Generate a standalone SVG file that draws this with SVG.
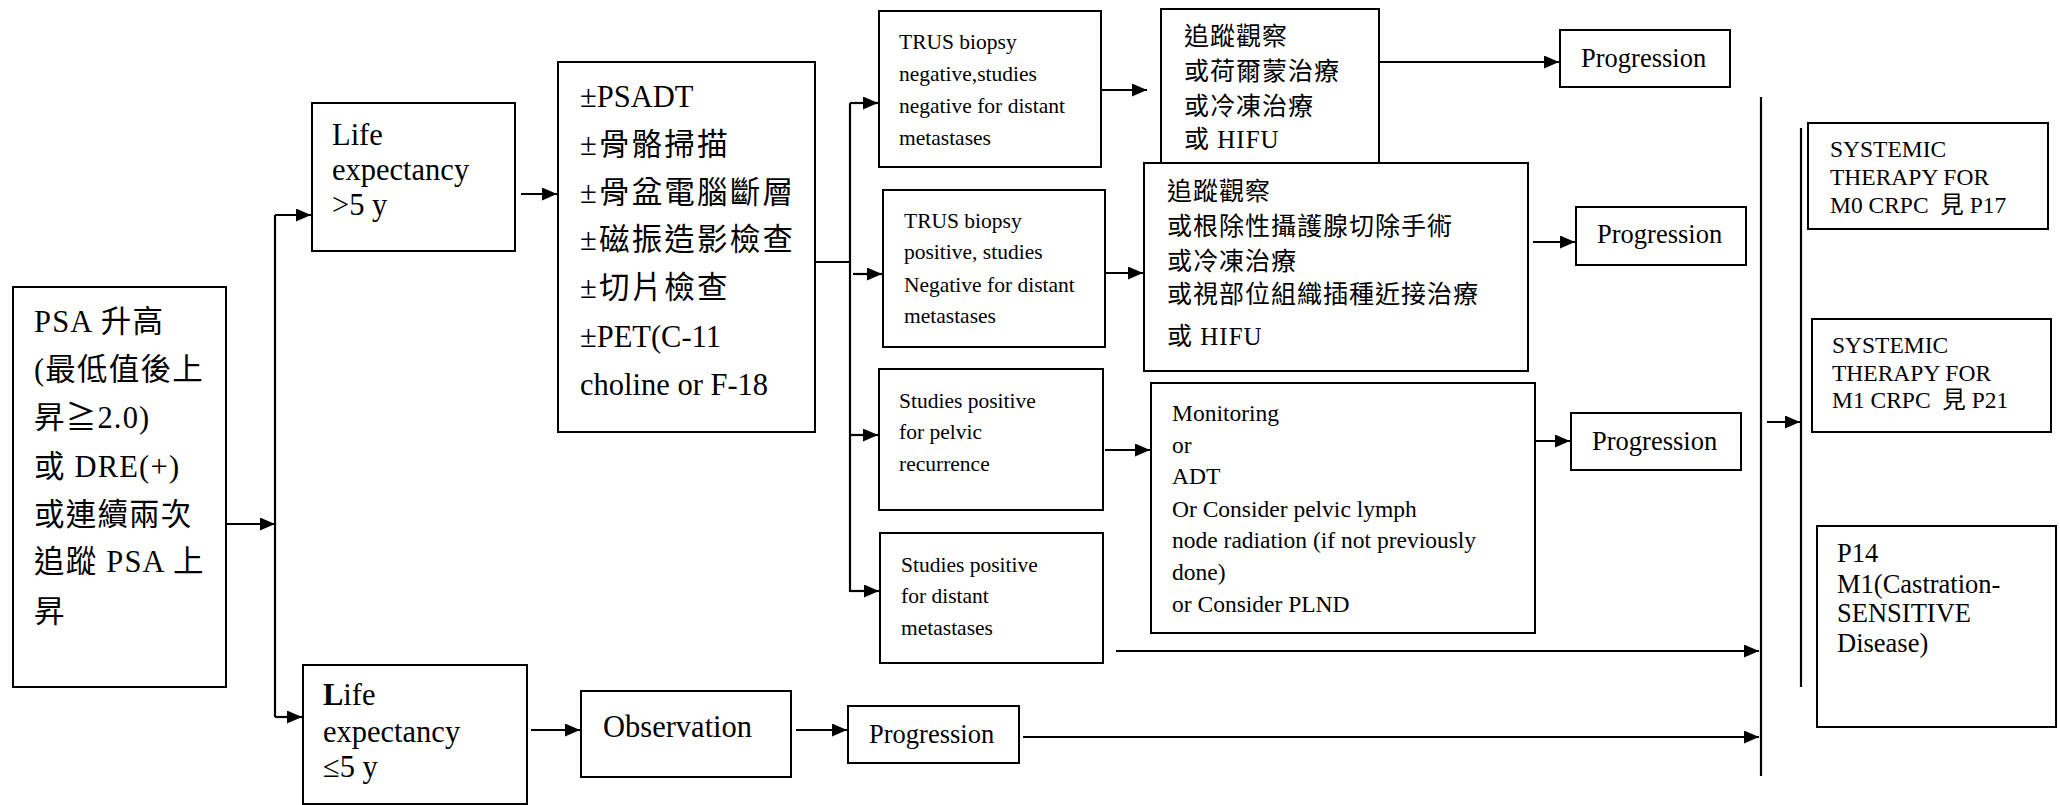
<svg xmlns="http://www.w3.org/2000/svg" width="2060" height="805" viewBox="0 0 2060 805">
<style>
  .box{fill:#fff;stroke:#000;stroke-width:2}
  .t{font-family:"Liberation Serif",serif;fill:#000}
  .c{font-family:"Liberation Serif","Noto Sans CJK TC","Noto Sans CJK JP",serif;fill:#000}
  .big{font-size:30.5px}
  .bigc{font-size:30.5px;letter-spacing:1.2px}
  .life{font-size:30.5px}
  .sm{font-size:21.5px}
  .cn{font-size:25px;letter-spacing:1px}
  .mon{font-size:23.5px}
  .prog{font-size:26.5px}
  .conn path{fill:none;stroke:#000;stroke-width:2.2}
</style>
<defs>
  <marker id="ah" markerUnits="userSpaceOnUse" markerWidth="15" markerHeight="13" refX="15" refY="6.5" orient="auto">
    <path d="M0,0 L15,6.5 L0,13 z" fill="#000"/>
  </marker>
</defs>
<rect width="2060" height="805" fill="#fff"/>

<g id="connectors" class="conn">
  <path d="M226,524 H275" marker-end="url(#ah)"/>
  <path d="M275,215 V717"/>
  <path d="M275,215 H311" marker-end="url(#ah)"/>
  <path d="M275,717 H302" marker-end="url(#ah)"/>
  <path d="M521,194 H557" marker-end="url(#ah)"/>
  <path d="M815,262 H850"/>
  <path d="M850,103 V592"/>
  <path d="M850,103 H878" marker-end="url(#ah)"/>
  <path d="M853,274 H882" marker-end="url(#ah)"/>
  <path d="M850,435 H878" marker-end="url(#ah)"/>
  <path d="M850,591 H879" marker-end="url(#ah)"/>
  <path d="M1102,90 H1147" marker-end="url(#ah)"/>
  <path d="M1104,273 H1143" marker-end="url(#ah)"/>
  <path d="M1105,450 H1150" marker-end="url(#ah)"/>
  <path d="M1369,62 H1559" marker-end="url(#ah)"/>
  <path d="M1533,242 H1575" marker-end="url(#ah)"/>
  <path d="M1536,441 H1570" marker-end="url(#ah)"/>
  <path d="M1116,651 H1759" marker-end="url(#ah)"/>
  <path d="M1023,737 H1759" marker-end="url(#ah)"/>
  <path d="M531,730 H580" marker-end="url(#ah)"/>
  <path d="M796,730 H847" marker-end="url(#ah)"/>
  <path d="M1761,97 V776"/>
  <path d="M1801,128 V687"/>
  <path d="M1767,422 H1800" marker-end="url(#ah)"/>
</g>

<g id="psa">
  <rect class="box" x="13" y="287" width="213" height="400"/>
  <text class="c bigc" x="34" y="332">PSA 升高</text>
  <text class="c bigc" x="34" y="380">(最低值後上</text>
  <text class="c bigc" x="34" y="428">昇≧2.0)</text>
  <text class="c bigc" x="34" y="477">或 DRE(+)</text>
  <text class="c bigc" x="34" y="525">或連續兩次</text>
  <text class="c bigc" x="34" y="572">追蹤 PSA 上</text>
  <text class="c bigc" x="34" y="622">昇</text>
</g>

<g id="life-gt5">
  <rect class="box" x="312" y="103" width="203" height="148"/>
  <text class="t life" x="332" y="145">Life</text>
  <text class="t life" x="332" y="180">expectancy</text>
  <text class="t life" x="332" y="215">&gt;5 y</text>
</g>

<g id="life-le5">
  <rect class="box" x="303" y="665" width="224" height="139"/>
  <text class="t life" x="323" y="705"><tspan font-weight="bold">L</tspan>ife</text>
  <text class="t life" x="323" y="742">expectancy</text>
  <text class="t life" x="323" y="777">≤5 y</text>
</g>

<g id="workup">
  <rect class="box" x="558" y="62" width="257" height="370"/>
  <text class="t big" x="580" y="107">±PSADT</text>
  <text class="c big" x="580" y="155" letter-spacing="2.2">±骨骼掃描</text>
  <text class="c big" x="580" y="203" letter-spacing="2.2">±骨盆電腦斷層</text>
  <text class="c big" x="580" y="250" letter-spacing="2.2">±磁振造影檢查</text>
  <text class="c big" x="580" y="298" letter-spacing="2.2">±切片檢查</text>
  <text class="t big" x="580" y="347">±PET(C-11</text>
  <text class="t big" x="580" y="395">choline or F-18</text>
</g>

<g id="trus-neg">
  <rect class="box" x="879" y="11" width="222" height="156"/>
  <text class="t sm" x="899" y="49">TRUS biopsy</text>
  <text class="t sm" x="899" y="81">negative,studies</text>
  <text class="t sm" x="899" y="113">negative for distant</text>
  <text class="t sm" x="899" y="145">metastases</text>
</g>

<g id="trus-pos">
  <rect class="box" x="883" y="190" width="222" height="157"/>
  <text class="t sm" x="904" y="228">TRUS biopsy</text>
  <text class="t sm" x="904" y="259">positive, studies</text>
  <text class="t sm" x="904" y="292">Negative for distant</text>
  <text class="t sm" x="904" y="323">metastases</text>
</g>

<g id="pelvic">
  <rect class="box" x="879" y="369" width="224" height="141"/>
  <text class="t sm" x="899" y="408">Studies positive</text>
  <text class="t sm" x="899" y="439">for pelvic</text>
  <text class="t sm" x="899" y="471">recurrence</text>
</g>

<g id="distant">
  <rect class="box" x="880" y="533" width="223" height="130"/>
  <text class="t sm" x="901" y="572">Studies positive</text>
  <text class="t sm" x="901" y="603">for distant</text>
  <text class="t sm" x="901" y="635">metastases</text>
</g>

<g id="observation">
  <rect class="box" x="581" y="691" width="210" height="86"/>
  <text class="t life" x="603" y="737" font-size="28.8">Observation</text>
</g>

<g id="progression-bottom">
  <rect class="box" x="848" y="706" width="171" height="57"/>
  <text class="t prog" x="869" y="743">Progression</text>
</g>

<g id="treat-neg">
  <rect class="box" x="1161" y="9" width="218" height="154"/>
  <text class="c cn" x="1184" y="45">追蹤觀察</text>
  <text class="c cn" x="1184" y="80">或荷爾蒙治療</text>
  <text class="c cn" x="1184" y="115">或冷凍治療</text>
  <text class="c cn" x="1184" y="148">或 HIFU</text>
</g>

<g id="progression-1">
  <rect class="box" x="1560" y="30" width="170" height="57"/>
  <text class="t prog" x="1581" y="67">Progression</text>
</g>

<g id="treat-pos">
  <rect class="box" x="1144" y="163" width="384" height="208"/>
  <text class="c cn" x="1167" y="200">追蹤觀察</text>
  <text class="c cn" x="1167" y="235">或根除性攝護腺切除手術</text>
  <text class="c cn" x="1167" y="270">或冷凍治療</text>
  <text class="c cn" x="1167" y="303">或視部位組織插種近接治療</text>
  <text class="c cn" x="1167" y="345">或 HIFU</text>
</g>

<g id="progression-2">
  <rect class="box" x="1576" y="207" width="170" height="58"/>
  <text class="t prog" x="1597" y="243">Progression</text>
</g>

<g id="monitoring">
  <rect class="box" x="1151" y="383" width="384" height="250"/>
  <text class="t mon" x="1172" y="421">Monitoring</text>
  <text class="t mon" x="1172" y="453">or</text>
  <text class="t mon" x="1172" y="484">ADT</text>
  <text class="t mon" x="1172" y="517">Or Consider pelvic lymph</text>
  <text class="t mon" x="1172" y="548">node radiation (if not previously</text>
  <text class="t mon" x="1172" y="580">done)</text>
  <text class="t mon" x="1172" y="612">or Consider PLND</text>
</g>

<g id="progression-3">
  <rect class="box" x="1571" y="413" width="170" height="57"/>
  <text class="t prog" x="1592" y="450">Progression</text>
</g>

<g id="systemic-m0">
  <rect class="box" x="1808" y="123" width="240" height="106"/>
  <text class="t mon" x="1830" y="157">SYSTEMIC</text>
  <text class="t mon" x="1830" y="185">THERAPY FOR</text>
  <text class="c mon" x="1830" y="213" xml:space="preserve">M0 CRPC  見 P17</text>
</g>

<g id="systemic-m1">
  <rect class="box" x="1812" y="319" width="239" height="113"/>
  <text class="t mon" x="1832" y="353">SYSTEMIC</text>
  <text class="t mon" x="1832" y="381">THERAPY FOR</text>
  <text class="c mon" x="1832" y="408" xml:space="preserve">M1 CRPC  見 P21</text>
</g>

<g id="p14">
  <rect class="box" x="1817" y="526" width="239" height="201"/>
  <text class="t prog" x="1837" y="562">P14</text>
  <text class="t prog" x="1837" y="593">M1(Castration-</text>
  <text class="t prog" x="1837" y="622">SENSITIVE</text>
  <text class="t prog" x="1837" y="652">Disease)</text>
</g>
</svg>
